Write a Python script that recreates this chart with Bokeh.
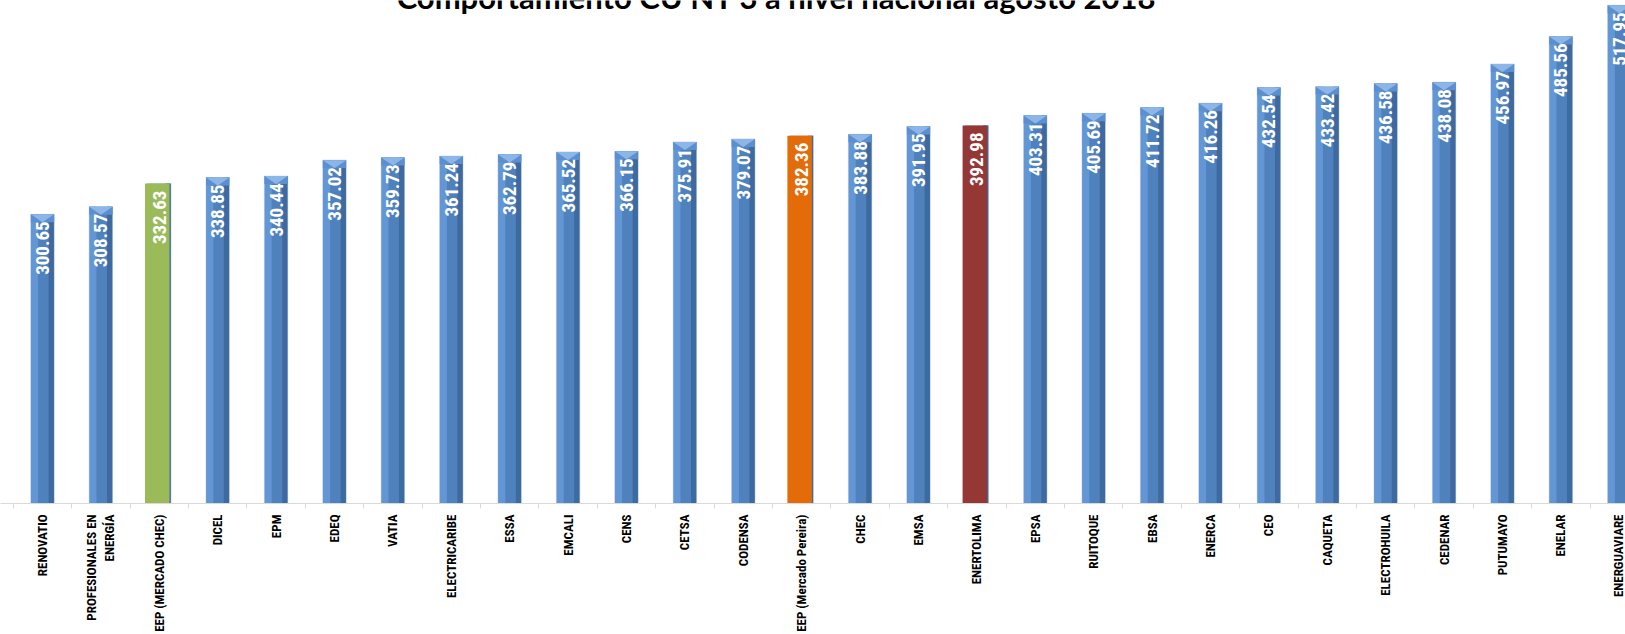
import math
from bokeh.plotting import figure
from bokeh.models import FixedTicker, Range1d, ColumnDataSource
from bokeh.core.properties import value
from bokeh.transform import dodge
from bokeh.embed import file_html
from bokeh.resources import INLINE

# ---------------- data ----------------
categories = [
    "RENOVATIO", "PROFESIONALES EN ENERGÍA", "EEP (MERCADO CHEC)", "DICEL", "EPM",
    "EDEQ", "VATIA", "ELECTRICARIBE", "ESSA", "EMCALI", "CENS", "CETSA", "CODENSA",
    "EEP (Mercado Pereira)", "CHEC", "EMSA", "ENERTOLIMA", "EPSA", "RUITOQUE", "EBSA",
    "ENERCA", "CEO", "CAQUETA", "ELECTROHUILA", "CEDENAR", "PUTUMAYO", "ENELAR",
    "ENERGUAVIARE",
]
values = [
    300.65, 308.57, 332.63, 338.85, 340.44, 357.02, 359.73, 361.24, 362.79, 365.52,
    366.15, 375.91, 379.07, 382.36, 383.88, 391.95, 392.98, 403.31, 405.69, 411.72,
    416.26, 432.54, 433.42, 436.58, 438.08, 456.97, 485.56, 517.95,
]
tick_labels = [
    "RENOVATIO", "PROFESIONALES EN\nENERGÍA", "EEP (MERCADO CHEC)", "DICEL", "EPM",
    "EDEQ", "VATIA", "ELECTRICARIBE", "ESSA", "EMCALI", "CENS", "CETSA", "CODENSA",
    "EEP (Mercado Pereira)", "CHEC", "EMSA", "ENERTOLIMA", "EPSA", "RUITOQUE", "EBSA",
    "ENERCA", "CEO", "CAQUETA", "ELECTROHUILA", "CEDENAR", "PUTUMAYO", "ENELAR",
    "ENERGUAVIARE",
]
title_text = "Comportamiento CU NT 3 a nivel nacional agosto 2018"

# ---------------- style ----------------
highlight = {
    "EEP (MERCADO CHEC)": "#9BBB59",
    "EEP (Mercado Pereira)": "#E36C09",
    "ENERTOLIMA": "#953735",
}
AXIS_FONT = "Roboto Condensed"
VAL_FONT = "Roboto Condensed"

W, H = 1625, 634
SLOT = 58.4
X0 = -0.5 - 12.8 / SLOT
FRAME_H = 505
Y_END = 523.0
PX = Y_END / FRAME_H  # data units per pixel

n = len(categories)
xs = list(range(n))
is_hl = [c in highlight for c in categories]

src = ColumnDataSource(dict(
    x=xs, top=values, label=[f"{v:.2f}" for v in values],
))
plain = [i for i in xs if not is_hl[i]]
hl = [i for i in xs if is_hl[i]]
plain_src = ColumnDataSource(dict(
    x=[xs[i] for i in plain], top=[values[i] for i in plain],
))
hl_src = ColumnDataSource(dict(
    x=[xs[i] for i in hl], top=[values[i] for i in hl],
    color=[highlight[categories[i]] for i in hl],
))
cap_src = ColumnDataSource(dict(
    xs=[[xs[i] - 0.2, xs[i] + 0.2, xs[i]] for i in plain],
    ys=[[values[i], values[i], values[i] - 8 * PX] for i in plain],
))
band_src = ColumnDataSource(dict(
    x=[xs[i] for i in plain], top=[values[i] for i in plain],
    bottom=[values[i] - 8 * PX for i in plain],
))

p = figure(width=W, height=H, output_backend="svg", toolbar_location=None,
           x_range=Range1d(X0, X0 + W / SLOT), y_range=Range1d(0, Y_END),
           y_axis_location=None,
           min_border_left=0, min_border_right=0, min_border_top=0, min_border_bottom=0,
           outline_line_color=None, background_fill_color="white",
           border_fill_color="white")
p.xgrid.visible = False
p.ygrid.visible = False

# blue 3D-looking bars (all categories; hidden behind highlighted ones)
p.vbar(x="x", top="top", bottom=0, width=0.40, source=src,
       fill_color="#4F81BD", line_color="#C9D6E8", line_width=0.8)
p.vbar(x=dodge("x", -0.135, range=p.x_range), top="top", bottom=0, width=0.12,
       source=plain_src, fill_color="#6396D4", line_color=None)
p.vbar(x=dodge("x", 0.15, range=p.x_range), top="top", bottom=0, width=0.09,
       source=src, fill_color="#3D6AA0", line_color=None)
p.vbar(x="x", top="top", bottom="bottom", width=0.40, source=band_src,
       fill_color="#5C8FD0", line_color=None)
p.patches(xs="xs", ys="ys", source=cap_src, fill_color="#8DB6E8", line_color=None)

# highlighted flat bars
p.vbar(x=dodge("x", -0.035, range=p.x_range), top="top", bottom=0, width=0.42,
       source=hl_src, fill_color="color", line_color=None)

# value labels inside bars
p.text(x="x", y=dodge("top", -7 * PX, range=p.y_range), text="label", source=src,
       angle=math.pi / 2, text_align="right", text_baseline="middle",
       text_color="white", text_font=value(VAL_FONT), text_font_size="19px",
       text_font_style="bold")

# x axis
ax = p.xaxis[0]
ax.ticker = FixedTicker(ticks=xs, minor_ticks=[i - 0.5 for i in range(n + 1)])
ax.major_label_overrides = {i: tick_labels[i] for i in xs}
ax.major_label_orientation = math.pi / 2
ax.major_tick_line_color = None
ax.major_tick_in = 0
ax.major_tick_out = 0
ax.minor_tick_line_color = "#D9D9D9"
ax.minor_tick_in = 0
ax.minor_tick_out = 5
ax.axis_line_color = "#D9D9D9"
ax.axis_line_width = 1
ax.major_label_standoff = 6
ax.major_label_text_font = AXIS_FONT
ax.major_label_text_font_size = "13px"
ax.major_label_text_font_style = "bold"
ax.major_label_text_color = "#000000"

# title (cut off at the top in the reference)
p.text(x=[X0 + 776 / SLOT], y=[Y_END + 3.5 * PX], text=[title_text],
       text_align="center", text_baseline="alphabetic",
       text_font=value("Lato"), text_font_size="31px", text_font_style="bold",
       text_color="#000000")

open("out.html", "w").write(file_html(p, INLINE))
